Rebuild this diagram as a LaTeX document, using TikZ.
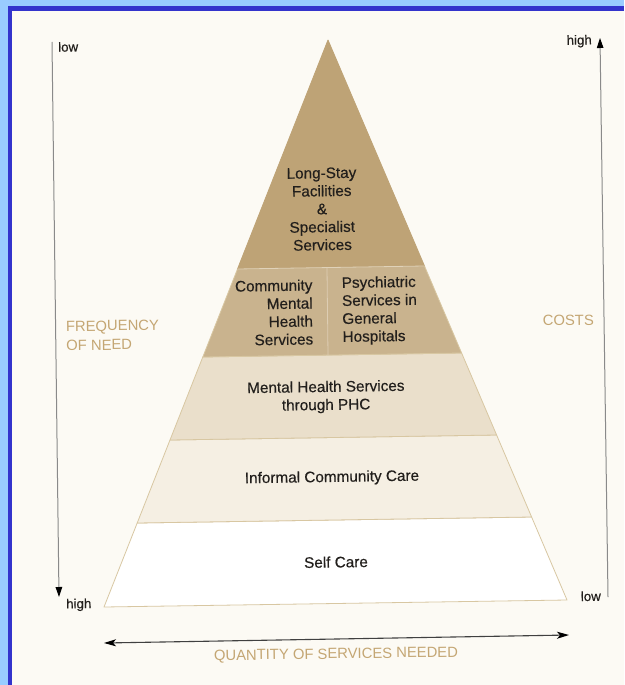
\documentclass[tikz,border=0pt]{standalone}
\usepackage{fontspec}
\setmainfont{Liberation Sans}
\newfontfamily\printfont[FakeBold=0.4]{Liberation Sans}
\usetikzlibrary{arrows.meta}
\definecolor{skyblue}{HTML}{99CCFF}
\definecolor{frameblue}{HTML}{3333CC}
\definecolor{paper}{HTML}{FCFAF4}
\definecolor{tanA}{HTML}{BEA376}
\definecolor{tanB}{HTML}{C9B38E}
\definecolor{tanC}{HTML}{EADFCB}
\definecolor{tanD}{HTML}{F5EFE3}
\definecolor{tanE}{HTML}{FFFFFF}
\definecolor{edge}{HTML}{D8C7A2}
\definecolor{caption}{HTML}{C4A673}
\definecolor{ink}{HTML}{221F1C}
\definecolor{axis}{HTML}{8A8A8A}
\begin{document}
\begin{tikzpicture}[x=1pt,y=-1pt,
  layer/.style={draw=edge,line width=0.8pt,line join=round},
  label/.style={font=\printfont\fontsize{15.3}{18}\selectfont,text=ink,align=center,rotate=0.85,inner sep=0pt},
  axislabel/.style={font=\fontsize{14.8}{19}\selectfont,text=caption,align=left,rotate=0.85,inner sep=0pt},
  endlabel/.style={font=\printfont\fontsize{13.3}{15}\selectfont,text=ink,rotate=0.85,inner sep=0pt},
  axisline/.style={draw=axis,line width=1pt},
  tip/.style={-{Triangle[length=10pt,width=6.5pt,color=black]}},
  qtip/.style={{Stealth[length=12pt,width=7pt,inset=3pt,color=black]}-{Stealth[length=12pt,width=7pt,inset=3pt,color=black]}}
]
\useasboundingbox (0,0) rectangle (624,685);
% frame
\fill[skyblue] (0,0) rectangle (624,685);
\fill[frameblue] (8,6) rectangle (624,685);
\fill[paper] (12,11) rectangle (624,685);

% pyramid corners
\coordinate (apex) at (328,40);
\coordinate (l1) at (237.5,269); \coordinate (r1) at (424.5,266);
\coordinate (l2) at (202.8,357); \coordinate (r2) at (461.6,353);
\coordinate (l3) at (170.0,440); \coordinate (r3) at (496.6,435);
\coordinate (l4) at (137.2,523); \coordinate (r4) at (531.6,517);
\coordinate (l5) at (104,607);   \coordinate (r5) at (567,600);

% pyramid layers
\path[layer,fill=tanE] (l4) -- (r4) -- (r5) -- (l5) -- cycle;
\path[layer,fill=tanD] (l3) -- (r3) -- (r4) -- (l4) -- cycle;
\path[layer,fill=tanC] (l2) -- (r2) -- (r3) -- (l3) -- cycle;
\path[layer,fill=tanB] (l1) -- (r1) -- (r2) -- (l2) -- cycle;
\path[fill=tanA,draw=tanA,line width=0.8pt,line join=round] (apex) -- (r1) -- (l1) -- cycle;
\draw[draw=tanC!70!tanB,line width=0.8pt] (l1) -- (r1);
\coordinate (d1) at (327,268);
\coordinate (d2) at (328,355);
\draw[draw=tanC!60!tanB,line width=0.8pt] (d1) -- (d2);

% layer texts
\node[label] (longstay) at (322,209) {Long-Stay\\Facilities\\\&\\Specialist\\Services};
\node[label,align=right,anchor=east] (cmhs) at (313,312) {Community\\Mental\\Health\\Services};
\node[label,align=left,anchor=west] (psych) at (342,311) {Psychiatric\\Services in\\General\\Hospitals};
\node[label] (phc) at (326,397) {Mental Health Services\\through PHC};
\node[label] (informal) at (332,478) {Informal Community Care};
\node[label] (self) at (336,562) {Self Care};

% frequency axis
\coordinate (ftop) at (52,42);
\coordinate (fbot) at (59,597);
\draw[axisline,tip] (ftop) -- (fbot);
\node[endlabel,anchor=west] (flow) at (58,47) {low};
\node[endlabel,anchor=west] (fhigh) at (66,605) {high};
\node[axislabel,anchor=west] (freq) at (66,336) {FREQUENCY\\OF NEED};

% cost axis
\coordinate (cbot) at (608,597);
\coordinate (ctop) at (600,38);
\draw[axisline,tip] (cbot) -- (ctop);
\node[endlabel,anchor=east] (chigh) at (592,41) {high};
\node[endlabel,anchor=east] (clow) at (601,596) {low};
\node[axislabel,anchor=east] (costs) at (594,320) {COSTS};

% quantity axis
\coordinate (qleft) at (104,643);
\coordinate (qright) at (569,635);
\draw[draw=black!75,line width=1.1pt,qtip] (qleft) -- (qright);
\node[axislabel] (quantity) at (336,655) {QUANTITY OF SERVICES NEEDED};
\end{tikzpicture}
\end{document}
